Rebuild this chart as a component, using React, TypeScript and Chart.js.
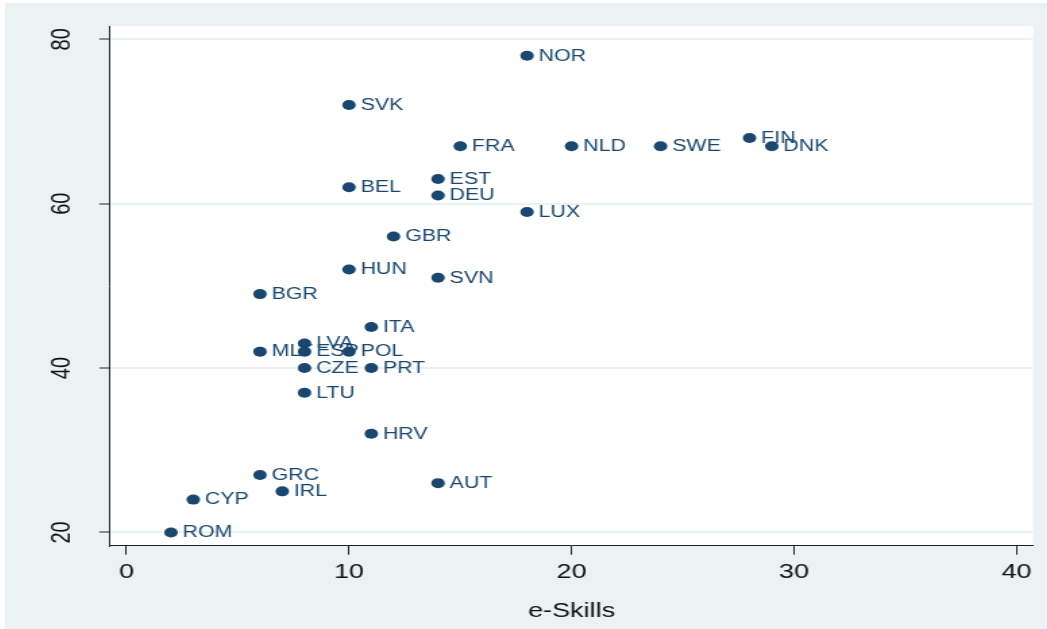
import { useEffect, useRef } from "react";
import { Chart, registerables } from "chart.js";

Chart.register(...registerables);

const countries = ["NOR", "SVK", "FRA", "NLD", "SWE", "FIN", "DNK", "EST", "BEL", "DEU", "LUX", "GBR", "HUN", "SVN", "BGR", "ITA", "LVA", "MLT", "ESP", "POL", "CZE", "PRT", "LTU", "HRV", "GRC", "AUT", "IRL", "CYP", "ROM"];
const eSkills = [18, 10, 15, 20, 24, 28, 29, 14, 10, 14, 18, 12, 10, 14, 6, 11, 8, 6, 8, 10, 8, 11, 8, 11, 6, 14, 7, 3, 2];
const yValues = [78, 72, 67, 67, 67, 68, 67, 63, 62, 61, 59, 56, 52, 51, 49, 45, 43, 42, 42, 42, 40, 40, 37, 32, 27, 26, 25, 24, 20];
const xTicks = [0, 10, 20, 30, 40];
const yTicks = [20, 40, 60, 80];
const xTitle = "e-Skills";

const NAVY = "#1A476F";
const BG = "#EAF2F3";
const FONT = "'Liberation Sans', Arial, sans-serif";
const S = 1.35;
const W = 772;
const H = 626;

const bgPlugin = {
  id: "plotBg",
  beforeDraw(chart: any) {
    const { ctx, chartArea } = chart;
    ctx.save();
    ctx.fillStyle = "#ffffff";
    ctx.fillRect(chartArea.left, chartArea.top, chartArea.right - chartArea.left, chartArea.bottom - chartArea.top);
    ctx.restore();
  },
};

const labelPlugin = {
  id: "markerLabels",
  afterDatasetsDraw(chart: any) {
    const { ctx } = chart;
    const meta = chart.getDatasetMeta(0);
    ctx.save();
    ctx.font = `15.8px ${FONT}`;
    ctx.fillStyle = NAVY;
    ctx.textAlign = "left";
    ctx.textBaseline = "middle";
    meta.data.forEach((pt: any, i: number) => {
      ctx.fillText(countries[i], pt.x + 8.6, pt.y + 0.5);
    });
    ctx.restore();
  },
};

export default function App() {
  const ref = useRef<HTMLCanvasElement>(null);
  useEffect(() => {
    document.body.style.margin = "0";
    const chart = new Chart(ref.current as HTMLCanvasElement, {
      type: "scatter",
      data: {
        datasets: [
          {
            data: eSkills.map((x, i) => ({ x, y: yValues[i] })),
            backgroundColor: NAVY,
            borderColor: NAVY,
            borderWidth: 0,
            pointRadius: 5,
          },
        ],
      },
      options: {
        responsive: false,
        animation: false,
        layout: { padding: { left: 0, top: 23, right: W - 761.5, bottom: 0 } },
        plugins: { legend: { display: false }, tooltip: { enabled: false } },
        scales: {
          x: {
            type: "linear",
            min: -0.74,
            max: 40.74,
            afterBuildTicks: (s: any) => {
              s.ticks = xTicks.map((v) => ({ value: v }));
            },
            afterFit: (s: any) => {
              s.height = 83.3;
              s.paddingLeft = 0;
              s.paddingRight = 0;
            },
            grid: { drawOnChartArea: false, drawTicks: true, tickLength: 9, tickColor: "#222", tickWidth: 1, color: "#222" },
            border: { display: true, color: "#222", width: 1 },
            ticks: { color: "#111", font: { family: FONT, size: 20 }, padding: 6, minRotation: 0, maxRotation: 0 },
            title: { display: true, text: xTitle, color: "#111", font: { family: FONT, size: 20 }, padding: { top: 0, bottom: 6 } },
          },
          y: {
            type: "linear",
            min: 18.39,
            max: 81.62,
            afterBuildTicks: (s: any) => {
              s.ticks = yTicks.map((v) => ({ value: v }));
            },
            afterFit: (s: any) => {
              s.width = 77.8;
              s.paddingTop = 0;
              s.paddingBottom = 0;
            },
            grid: { color: BG, lineWidth: 2, drawTicks: true, tickLength: 8, tickColor: "#222", tickWidth: 1 },
            border: { display: true, color: "#222", width: 1 },
            ticks: { color: "#111", font: { family: FONT, size: 20 }, padding: 16.5, minRotation: 90, maxRotation: 90, crossAlign: "center" },
          },
        },
      } as any,
      plugins: [bgPlugin, labelPlugin],
    });
    return () => chart.destroy();
  }, []);

  return (
    <div style={{ position: "relative", width: 1047, height: 629, background: "#ffffff", overflow: "hidden" }}>
      <div style={{ position: "absolute", left: 5, top: 3, width: 1042, height: H, background: BG }}>
        <div style={{ width: W, height: H, transform: `scaleX(${S})`, transformOrigin: "0 0" }}>
          <canvas ref={ref} width={W} height={H} style={{ display: "block", width: W, height: H }} />
        </div>
      </div>
    </div>
  );
}
